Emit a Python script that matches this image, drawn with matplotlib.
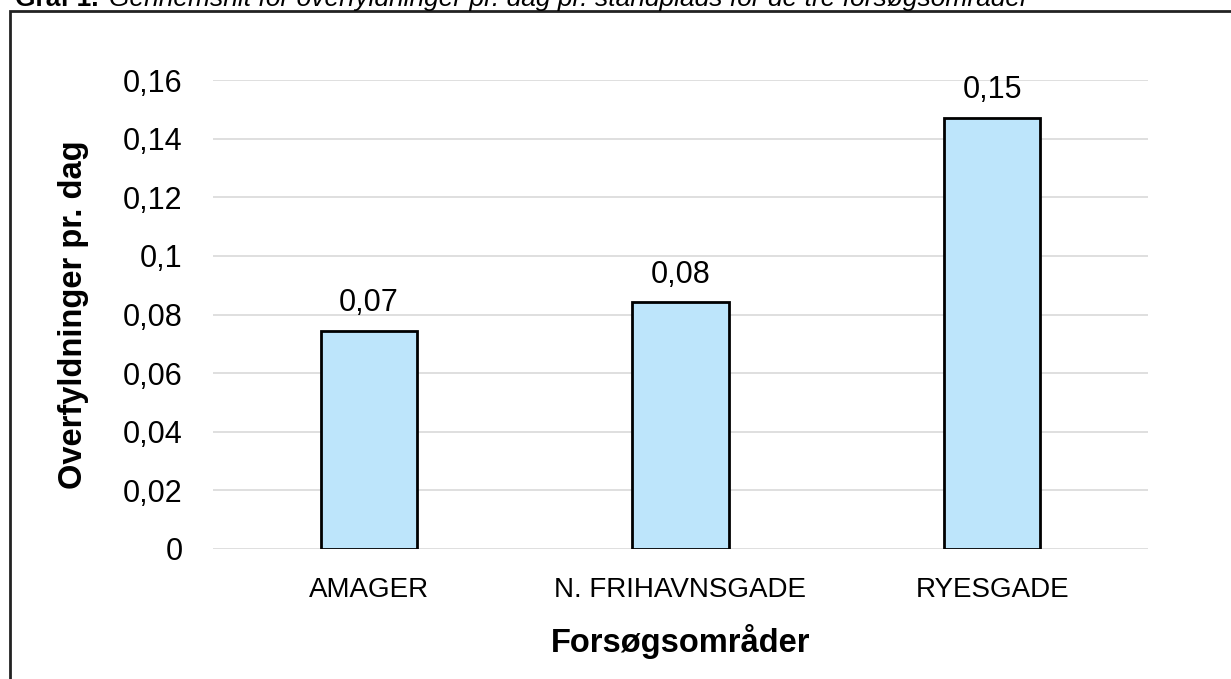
import matplotlib.pyplot as plt
from matplotlib.patches import Rectangle

categories = ['AMAGER', 'N. FRIHAVNSGADE', 'RYESGADE']
values = [0.0744, 0.0842, 0.1472]
value_labels = ['0,07', '0,08', '0,15']
yticks = [0, 0.02, 0.04, 0.06, 0.08, 0.1, 0.12, 0.14, 0.16]
ytick_labels = ['0', '0,02', '0,04', '0,06', '0,08', '0,1', '0,12', '0,14', '0,16']

plt.rcParams['font.family'] = ['Liberation Sans', 'DejaVu Sans']

W, H = 1231, 679
fig = plt.figure(figsize=(W / 100, H / 100), dpi=100)

# plot area in pixels
left, right, top, bottom = 213, 1148, 80, 549
ax = fig.add_axes([left / W, 1 - bottom / H, (right - left) / W, (bottom - top) / H])

x = list(range(len(categories)))
ax.bar(x, values, width=0.31, color='#BDE5FB', edgecolor='black', linewidth=2, zorder=3)
for xi, v, lab in zip(x, values, value_labels):
    ax.annotate(lab, (xi, v), xytext=(0, 9), textcoords='offset points',
                ha='center', va='bottom', fontsize=22)

ax.set_xlim(-0.5, 2.5)
ax.set_ylim(0, 0.16)
ax.set_yticks(yticks)
ax.set_yticklabels(ytick_labels, fontsize=22)
ax.set_xticks(x)
ax.set_xticklabels(categories, fontsize=20)
ax.tick_params(axis='y', length=0, pad=22)
ax.tick_params(axis='x', length=0, pad=20)
ax.grid(axis='y', color='#d9d9d9', linewidth=1.2, zorder=0)
for s in ax.spines.values():
    s.set_visible(False)

ax.set_ylabel('Overfyldninger pr. dag', fontsize=23.5, fontweight='bold', labelpad=24)
ax.set_xlabel('Forsøgsområder', fontsize=23.5, fontweight='bold', labelpad=15)

# outer frame, cut by the image edges
fig.patches.append(Rectangle((10 / W, -0.1), 1.2, 1 - 11 / H + 0.1,
                             transform=fig.transFigure, fill=False,
                             edgecolor='#222222', linewidth=2))

# title, mostly cropped at the top
fig.text(15 / W, 1 - 6 / H, 'Graf 1.', fontsize=19, fontweight='bold', va='baseline')
fig.text(109 / W, 1 - 6 / H,
         'Gennemsnit for overfyldninger pr. dag pr. standplads for de tre forsøgsområder',
         fontsize=19, style='italic', va='baseline')

fig.savefig('out.png', dpi=100)
